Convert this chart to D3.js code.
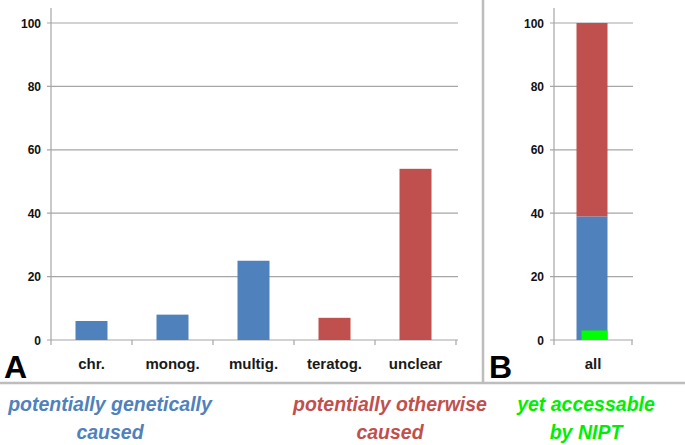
<!DOCTYPE html>
<html>
<head>
<meta charset="utf-8">
<script src="https://cdn.jsdelivr.net/npm/d3@7"></script>
<style>
  body { margin: 0; background: #fff; }
  svg { display: block; font-family: "Liberation Sans", Arial, sans-serif; }
  .tick-label { font-size: 12px; font-weight: bold; fill: #111; }
  .cat-label { font-size: 15px; font-weight: bold; fill: #1a1a1a; }
  .panel-letter { font-size: 32px; font-weight: bold; fill: #000; }
  .note { font-size: 19.5px; font-weight: bold; font-style: italic; }
</style>
</head>
<body>
<svg id="chart" width="685" height="445"></svg>
<script>
// Panel A: causes
const categories = ["chr.", "monog.", "multig.", "teratog.", "unclear"];
const values = [6, 8, 25, 7, 54];
const barGroup = ["gen", "gen", "gen", "oth", "oth"];

// Panel B: stacked "all"
const allCategory = ["all"];
const stackKeys = ["gen", "oth"];
const stackValues = [{ cat: "all", gen: 39, oth: 61 }];
const niptValue = 3;

const yTicks = [0, 20, 40, 60, 80, 100];

const colors = { gen: "#4f81bd", oth: "#c0504d", nipt: "#00ff00" };
const gridColor = "#a6a6a6";

const svg = d3.select("#chart");

const y = d3.scaleLinear().domain([0, 100]).range([340, 23]);

function drawFrame(x0, x1, xScale) {
    const g = svg.append("g");
    // gridlines
    g.selectAll("line.grid")
        .data(yTicks.filter(d => d > 0))
        .enter().append("line")
        .attr("x1", x0 - 4).attr("x2", x1)
        .attr("y1", d => y(d)).attr("y2", d => y(d))
        .attr("stroke", gridColor).attr("stroke-width", 1.2);
    // y axis line
    g.append("line")
        .attr("x1", x0).attr("x2", x0)
        .attr("y1", 8).attr("y2", y(0))
        .attr("stroke", gridColor).attr("stroke-width", 1.2);
    // baseline
    g.append("line")
        .attr("x1", x0 - 4).attr("x2", x1)
        .attr("y1", y(0)).attr("y2", y(0))
        .attr("stroke", gridColor).attr("stroke-width", 1.2);
    // tick labels
    g.selectAll("text.tick-label")
        .data(yTicks)
        .enter().append("text")
        .attr("class", "tick-label")
        .attr("x", x0 - 10)
        .attr("y", d => y(d) + 4.5)
        .attr("text-anchor", "end")
        .text(d => d);
    // category separators on x
    const bounds = [x0].concat(xScale.domain().map(c => xScale(c) + xScale.step()));
    g.selectAll("line.xtick")
        .data(bounds)
        .enter().append("line")
        .attr("x1", d => d).attr("x2", d => d)
        .attr("y1", y(0)).attr("y2", y(0) + 5)
        .attr("stroke", gridColor).attr("stroke-width", 1.2);
    // category labels
    g.selectAll("text.cat-label")
        .data(xScale.domain())
        .enter().append("text")
        .attr("class", "cat-label")
        .attr("x", d => xScale(d) + xScale.step() / 2)
        .attr("y", 369)
        .attr("text-anchor", "middle")
        .text(d => d);
}

// Panel A
const xA = d3.scaleBand().domain(categories).range([51, 456]).paddingInner(0).paddingOuter(0);
drawFrame(51, 458, xA);
const barW = 32;
svg.append("g").selectAll("rect")
    .data(categories)
    .enter().append("rect")
    .attr("x", (d) => xA(d) + xA.step() / 2 - barW / 2)
    .attr("y", (d, i) => y(values[i]))
    .attr("width", barW)
    .attr("height", (d, i) => y(0) - y(values[i]))
    .attr("fill", (d, i) => colors[barGroup[i]]);

// Panel B
const xB = d3.scaleBand().domain(allCategory).range([554, 632]);
drawFrame(554, 633, xB);
const stacked = d3.stack().keys(stackKeys)(stackValues);
svg.append("g").selectAll("rect")
    .data(stacked)
    .enter().append("rect")
    .attr("x", xB("all") + xB.step() / 2 - 31 / 2 - 1)
    .attr("y", d => y(d[0][1]))
    .attr("width", 31)
    .attr("height", d => y(d[0][0]) - y(d[0][1]))
    .attr("fill", d => colors[d.key]);
svg.append("rect")
    .attr("x", xB("all") + xB.step() / 2 - 31 / 2 + 4)
    .attr("y", y(niptValue))
    .attr("width", 26)
    .attr("height", y(0) - y(niptValue))
    .attr("fill", colors.nipt);

// separators
svg.append("line")
    .attr("x1", 483).attr("x2", 483).attr("y1", 0).attr("y2", 383)
    .attr("stroke", "#bdbdbd").attr("stroke-width", 2.5);
svg.append("line")
    .attr("x1", 0).attr("x2", 685).attr("y1", 383).attr("y2", 383)
    .attr("stroke", "#bdbdbd").attr("stroke-width", 2.5);

// panel letters
svg.append("text").attr("class", "panel-letter").attr("x", 4).attr("y", 378).text("A");
svg.append("text").attr("class", "panel-letter").attr("x", 489).attr("y", 378).text("B");

// notes
const notes = [
    { lines: ["potentially genetically", "caused"], x: 110, color: colors.gen },
    { lines: ["potentially otherwise", "caused"], x: 390, color: colors.oth },
    { lines: ["yet accessable", "by NIPT"], x: 586, color: "#00ee00" }
];
notes.forEach(n => {
    n.lines.forEach((t, i) => {
        svg.append("text")
            .attr("class", "note")
            .attr("x", n.x)
            .attr("y", 411 + i * 28)
            .attr("text-anchor", "middle")
            .attr("fill", n.color)
            .text(t);
    });
});
</script>
</body>
</html>
